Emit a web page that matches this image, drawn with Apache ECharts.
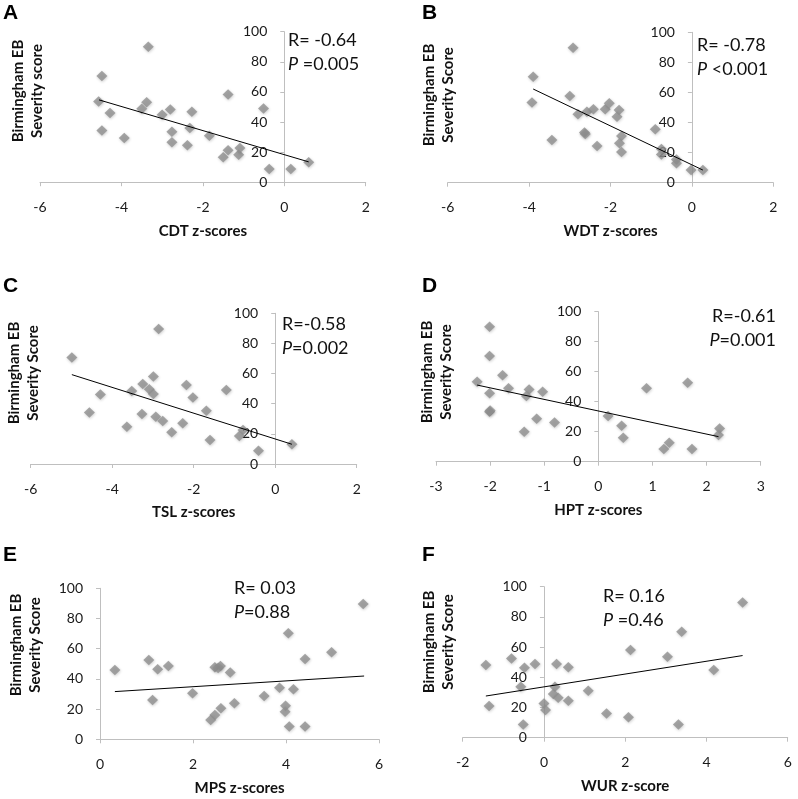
<!DOCTYPE html>
<html>
<head>
<meta charset="utf-8">
<script src="https://cdn.jsdelivr.net/npm/echarts@6/dist/echarts.min.js"></script>
<style>
html,body{margin:0;padding:0;background:#fff;}
#chart{width:798px;height:799px;}
</style>
</head>
<body>
<div id="chart"></div>
<script>
// ---- Data ----
const cdtX = [-3.34,-4.48,-4.56,-3.38,-3.5,-4.28,-4.48,-3.93,-3.0,-2.8,-2.27,-2.76,-2.76,-2.32,-2.38,-1.84,-1.38,-1.5,-1.38,-1.12,-1.09,-0.51,-0.37,0.16,0.6];
const cdtY = [90,70.6,53.6,53.2,48.8,45.9,34.4,29.4,44.8,48.3,46.8,33.6,26.5,36,24.5,30.9,58.3,16.6,21.2,18.3,22.7,49,8.8,8.8,13.2];
const cdtTrend = [[-4.55,54.7],[0.6,13.5]];

const wdtX = [-2.92,-3.9,-3.93,-3.0,-3.44,-2.8,-2.58,-2.42,-2.64,-2.62,-2.33,-2.13,-2.03,-1.79,-1.84,-1.73,-1.78,-1.73,-0.9,-0.75,-0.75,-0.38,-0.38,-0.02,0.27];
const wdtY = [89.8,70.5,53.4,57.6,28.4,45.5,47.2,48.8,33.3,32.4,24.4,48.8,52.8,48.3,43.9,31,26.2,20.4,35.5,22.4,18.8,15.5,12.9,8.4,8.4];
const wdtTrend = [[-3.9,62.3],[0.27,8.4]];

const tslX = [-2.86,-4.99,-2.99,-3.25,-2.18,-3.09,-2.99,-3.52,-4.29,-2.02,-1.2,-1.69,-4.56,-3.27,-2.93,-2.76,-3.64,-2.27,-2.54,-1.6,-0.79,-0.88,-0.41,0.41];
const tslY = [89.6,70.6,58,53.1,52.4,49.6,46.5,48.5,46.2,44.2,49.1,35.4,34.1,33.2,31.4,28.5,24.8,27,21,15.9,22.6,18.6,8.8,13.1];
const tslTrend = [[-4.99,59.3],[0.41,13.1]];

const hptX = [-2.01,-2.01,-1.77,-2.24,-1.66,-1.28,-1.03,-2.01,-1.33,-2.01,-2.0,-1.14,-0.81,-1.37,0.18,0.43,0.46,0.89,1.65,1.21,1.31,1.73,2.24,2.22];
const hptY = [90,70.4,57.6,53.3,48.9,48.2,46.7,45.6,43.8,33.3,34.2,28.7,26.2,20,30.4,24,16,48.9,52.7,8.4,12.7,8.4,22.2,17.8];
const hptTrend = [[-2.24,51.1],[2.22,16.7]];

const mpsX = [5.66,4.05,4.98,4.41,0.32,1.05,1.24,1.47,2.47,2.59,2.54,2.8,1.13,1.99,3.86,4.16,3.53,2.89,2.6,2.47,2.38,3.99,3.98,4.07,4.41];
const mpsY = [89.6,70.2,57.6,53.2,45.9,52.5,46.4,48.6,47.7,48.6,47.2,44.2,26,30.5,34.2,33.1,28.7,23.8,20.5,16.1,12.8,22.3,18.3,8.4,8.4];
const mpsTrend = [[0.32,31.6],[5.68,41.9]];

const wurX = [4.89,3.39,2.13,3.04,4.18,-1.43,-0.8,-0.48,-0.22,0.31,0.6,-0.57,0.27,0.23,0.35,0.6,1.09,-1.35,0.0,0.04,-0.51,1.54,2.08,3.31];
const wurY = [89.6,70.2,58.1,53.6,44.8,48.1,52.5,46.4,48.8,48.8,46.6,33.8,33.8,28.9,26.5,24.5,31.1,21,22.7,18.3,8.8,16.1,13.5,8.8];
const wurTrend = [[-1.43,27.6],[4.89,54.4]];

const panelLetters = ['A','B','C','D','E','F'];
const xNames = ['CDT z-scores','WDT z-scores','TSL z-scores','HPT z-scores','MPS z-scores','WUR z-score'];
const yNames = ['Birmingham EB\nSeverity score','Birmingham EB\nSeverity Score','Birmingham EB\nSeverity Score','Birmingham EB\nSeverity Score','Birmingham EB\nSeverity Score','Birmingham EB\nSeverity Score'];
const rTexts = ['R= -0.64','R= -0.78','R=-0.58','R=-0.61','R= 0.03','R= 0.16'];
const pTexts = [' =0.005',' <0.001','=0.002','=0.001','=0.88',' =0.46'];
const xMins = [-6,-6,-6,-3,0,-2];
const xMaxs = [2,2,2,3,6,6];
const xIntervals = [2,2,2,1,2,2];
const yMin = 0, yMax = 100, yInterval = 20;

// ---- Layout ----
const grids = [
  {left:40, top:31.7, width:325.7, height:150.5},
  {left:447.7, top:32.3, width:325.6, height:150.4},
  {left:30.7, top:313.3, width:326, height:150.7},
  {left:436, top:311.7, width:324.7, height:150},
  {left:100, top:588.3, width:279, height:151},
  {left:462.7, top:586.7, width:325, height:151}
];
const letterPos = [[3,3],[422,3],[3,276],[422,276],[3,545],[422,545]];
const yNamePos = [[28,91],[439,95],[24,373],[437,372],[26,645],[439,642]];
const annPos = [[288,28,'left'],[697,33,'left'],[282,312,'left'],[776,304,'right'],[234,576,'left'],[603,584,'left']];

const seriesX = [cdtX,wdtX,tslX,hptX,mpsX,wurX];
const seriesY = [cdtY,wdtY,tslY,hptY,mpsY,wurY];
const trends = [cdtTrend,wdtTrend,tslTrend,hptTrend,mpsTrend,wurTrend];

const tickFont = 'Lato';
const axisColor = '#bfbfbf';

// y axis crosses x = 0: shift it inward from the grid's left edge
const yOffsets = grids.map((g,i) => -g.width * (0 - xMins[i]) / (xMaxs[i] - xMins[i]));

const option = {
  animation:false,
  backgroundColor:'#ffffff',
  grid: grids.map(g => Object.assign({containLabel:false, outerBoundsMode:'none'}, g)),
  xAxis: grids.map((g,i) => ({
    type:'value', gridIndex:i, min:xMins[i], max:xMaxs[i], interval:xIntervals[i],
    name:xNames[i], nameLocation:'middle', nameGap:41,
    nameTextStyle:{fontFamily:'Lato', fontWeight:'bold', fontSize:15, color:'#111'},
    axisLine:{onZero:false, lineStyle:{color:axisColor, width:1}},
    axisTick:{show:true, length:4, lineStyle:{color:axisColor}},
    axisLabel:{margin:18, fontFamily:tickFont, fontSize:14, color:'#1a1a1a'},
    splitLine:{show:false}
  })),
  yAxis: grids.map((g,i) => ({
    type:'value', gridIndex:i, min:yMin, max:yMax, interval:yInterval,
    position:'left', offset:yOffsets[i],
    axisLine:{onZero:false, lineStyle:{color:axisColor, width:1}},
    axisTick:{show:true, length:4, lineStyle:{color:axisColor}},
    axisLabel:{margin:17, fontFamily:tickFont, fontSize:14, color:'#1a1a1a'},
    splitLine:{show:false}
  })),
  series: [],
  graphic: []
};

for (let i = 0; i < 6; i++) {
  option.series.push({
    type:'scatter', xAxisIndex:i, yAxisIndex:i,
    data: seriesX[i].map((x,k) => [x, seriesY[i][k]]),
    symbol:'diamond', symbolSize:[11,10.5],
    itemStyle:{color:'#909090', shadowBlur:3, shadowColor:'rgba(0,0,0,0.25)', shadowOffsetX:0.5, shadowOffsetY:1},
    z:2
  });
  option.series.push({
    type:'line', xAxisIndex:i, yAxisIndex:i,
    data: trends[i], symbol:'none', silent:true,
    lineStyle:{color:'#000', width:1},
    z:3
  });
  option.graphic.push({
    type:'text', left:letterPos[i][0], top:letterPos[i][1],
    style:{text:panelLetters[i], font:'bold 21px "Liberation Sans", Arial, sans-serif', fill:'#000'}
  });
  option.graphic.push({
    type:'text', x:yNamePos[i][0], y:yNamePos[i][1], rotation:Math.PI/2,
    style:{text:yNames[i], font:'bold 15px Lato, sans-serif', fill:'#111', align:'center', verticalAlign:'middle', lineHeight:19}
  });
  const a = annPos[i];
  option.graphic.push({
    type:'text', x:a[0], y:a[1],
    style:{
      text:'{r|' + rTexts[i] + '}\n{p|P}{r|' + pTexts[i] + '}',
      align:a[2], verticalAlign:'top',
      rich:{
        r:{fontFamily:'Lato', fontSize:18, fill:'#111', lineHeight:24},
        p:{fontFamily:'Lato', fontSize:18, fontStyle:'italic', fill:'#111', lineHeight:24}
      }
    }
  });
}

const chart = echarts.init(document.getElementById('chart'), null, {renderer:'canvas'});
chart.setOption(option);
</script>
</body>
</html>
